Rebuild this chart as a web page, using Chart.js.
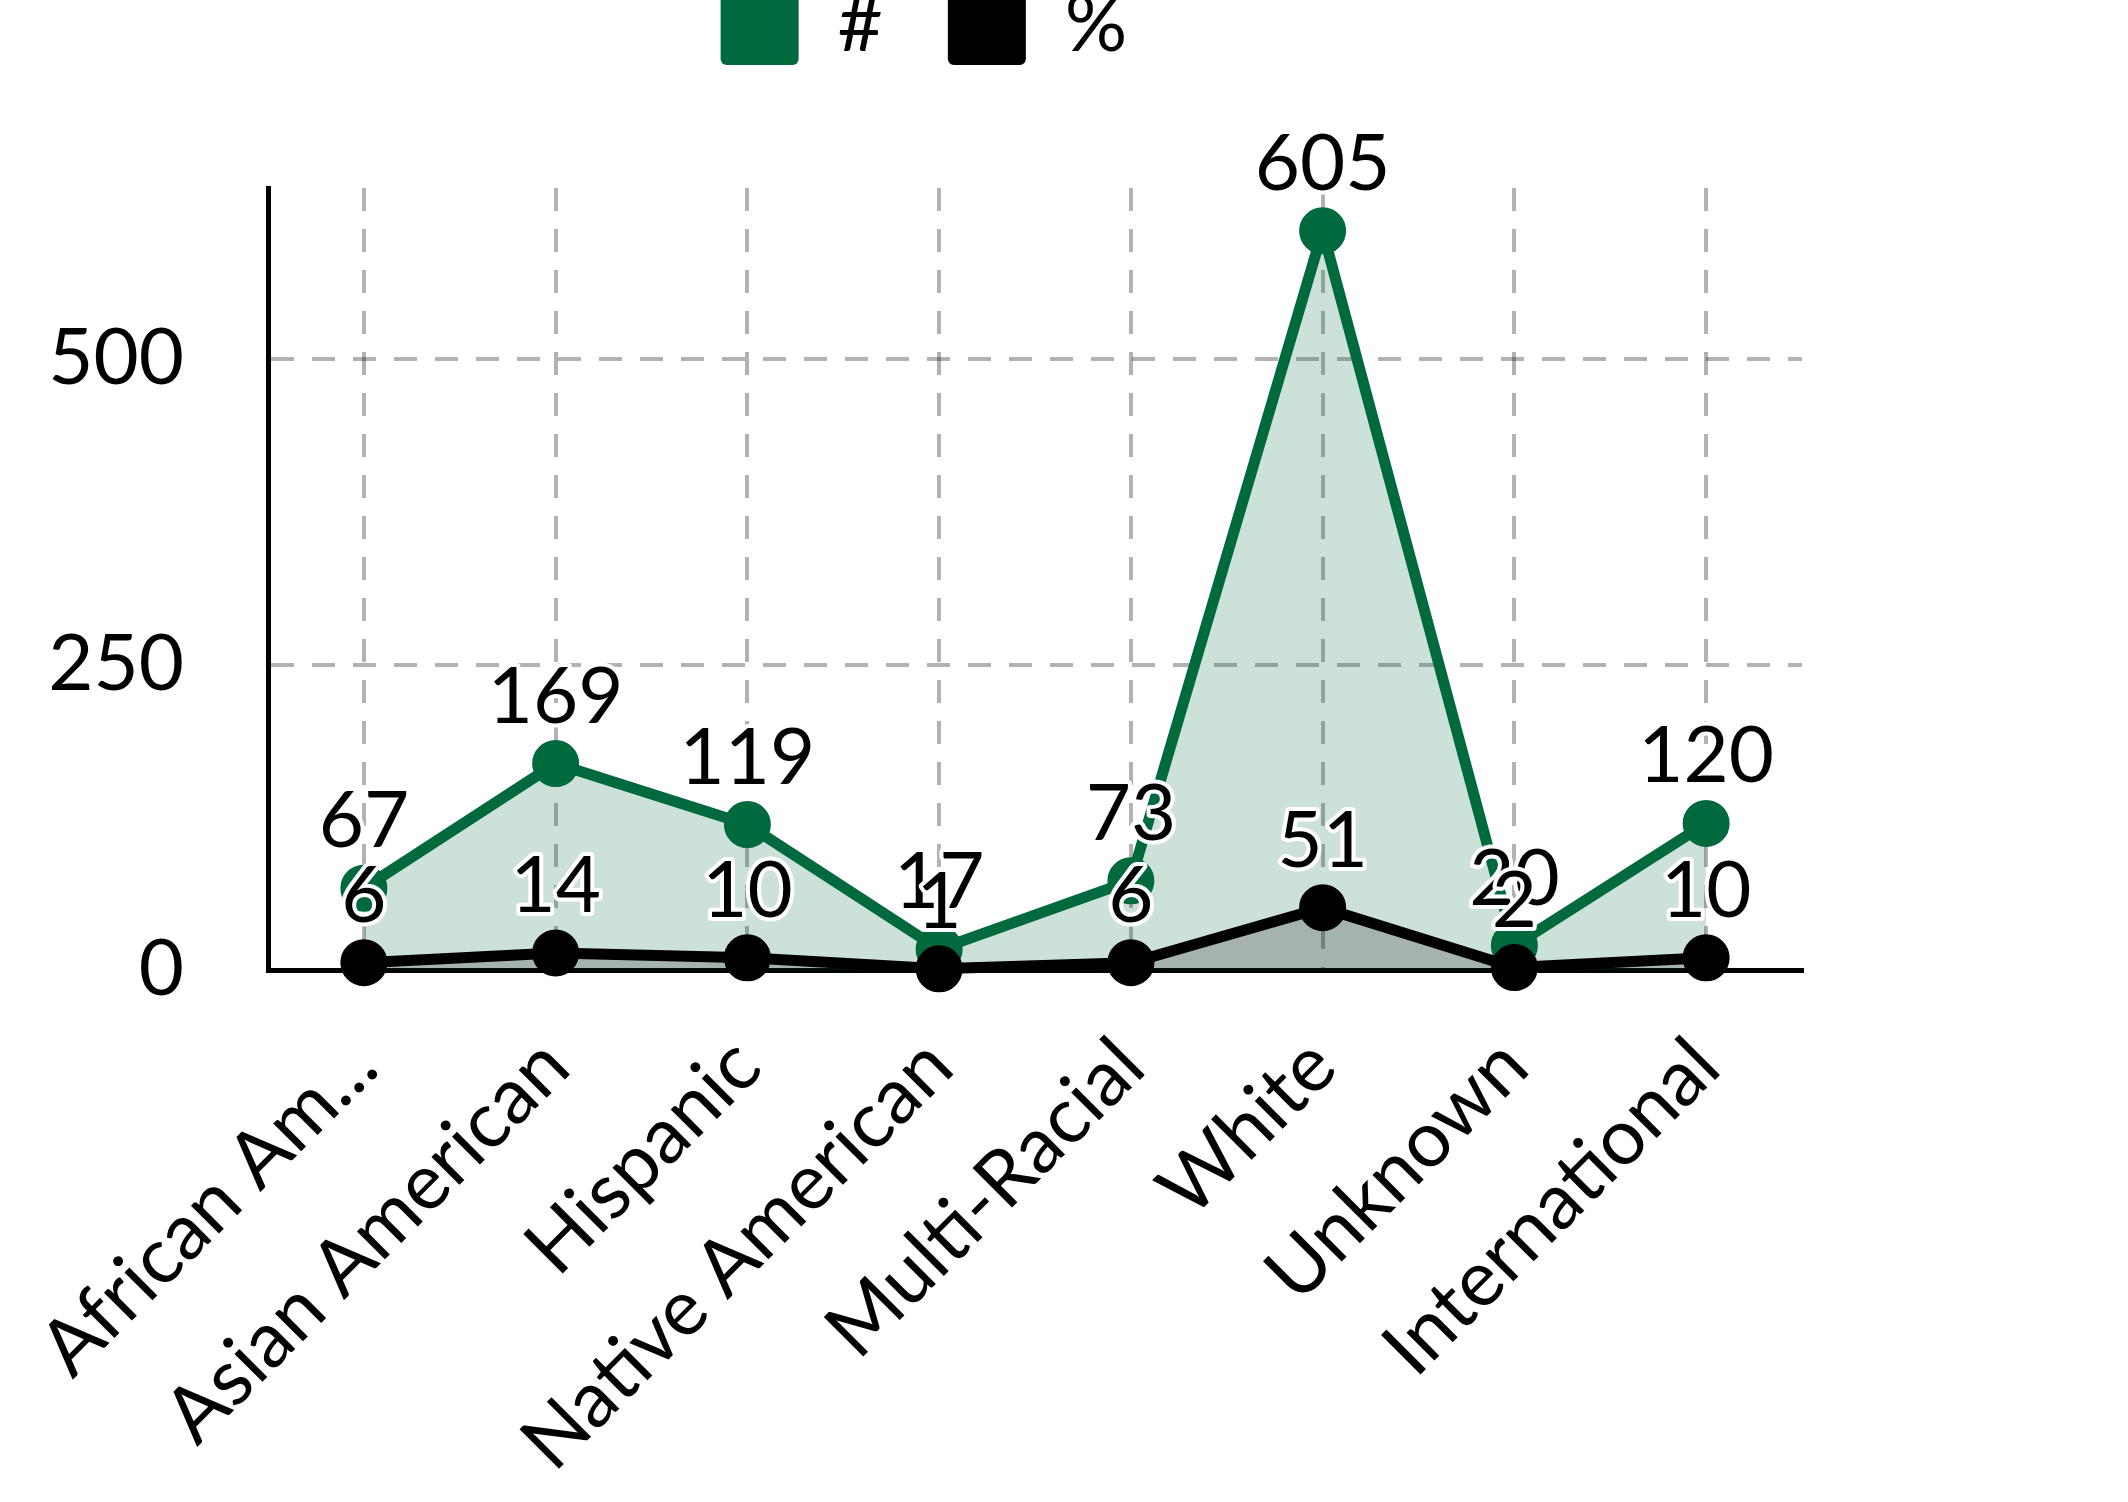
<!DOCTYPE html>
<html>
<head>
<meta charset="utf-8">
<script src="https://cdn.jsdelivr.net/npm/chart.js@4/dist/chart.umd.min.js"></script>
<style>
  html, body { margin: 0; padding: 0; background: #fff; overflow: hidden; }
  body { width: 2128px; height: 1502px; position: relative; }
  .chart-box { position: absolute; left: 0; top: -78px; width: 1827px; height: 1617px; }
</style>
</head>
<body>
<div class="chart-box"><canvas id="chart"></canvas></div>
<script>
const categories = ["African American", "Asian American", "Hispanic", "Native American", "Multi-Racial", "White", "Unknown", "International"];
const countValues = [67, 169, 119, 17, 73, 605, 20, 120];
const percentValues = [6, 14, 10, 1, 6, 51, 2, 10];
const yTicks = [0, 250, 500];

const GREEN = "#00693E";
const FONT_SIZE = 78;

Chart.defaults.font.family = "Lato";
Chart.defaults.font.size = FONT_SIZE;
Chart.defaults.color = "#000";

// value labels with a white halo, drawn after all lines
const valueLabels = {
  id: "valueLabels",
  afterDatasetsDraw(chart) {
    const ctx = chart.ctx;
    ctx.save();
    ctx.font = FONT_SIZE + "px Lato";
    ctx.textAlign = "center";
    ctx.textBaseline = "alphabetic";
    ctx.lineJoin = "round";
    ctx.lineWidth = 8;
    ctx.strokeStyle = "#fff";
    ctx.fillStyle = "#000";
    chart.data.datasets.forEach((ds, i) => {
      chart.getDatasetMeta(i).data.forEach((pt, j) => {
        const txt = String(ds.data[j]);
        ctx.strokeText(txt, pt.x, pt.y - 41);
        ctx.fillText(txt, pt.x, pt.y - 41);
      });
    });
    ctx.restore();
  },
};

// leave a gap under the legend and nudge it a little to the left
const legendGap = {
  id: "legendGap",
  beforeInit(chart) {
    const fit = chart.legend.fit;
    chart.legend.fit = function () {
      fit.call(this);
      this.height += 113;
    };
  },
  afterLayout(chart) {
    chart.legend.left -= 12;
    chart.legend.right -= 12;
  },
};

const gridOpts = {
  color: "rgba(0, 0, 0, 0.3)",
  lineWidth: 4,
  drawTicks: false,
};

const chart = new Chart(document.getElementById("chart"), {
  type: "line",
  data: {
    labels: categories,
    datasets: [
      {
        label: "#",
        data: countValues,
        borderColor: GREEN,
        backgroundColor: GREEN,
        fill: { target: "origin", above: "rgba(0, 105, 62, 0.2)" },
        borderWidth: 11,
        pointRadius: 22,
        pointBorderWidth: 3,
        tension: 0,
        clip: false,
        order: 1,
      },
      {
        label: "%",
        data: percentValues,
        borderColor: "#000",
        backgroundColor: "#000",
        fill: { target: "origin", above: "rgba(0, 0, 0, 0.2)" },
        borderWidth: 11,
        pointRadius: 22,
        pointBorderWidth: 3,
        tension: 0,
        clip: false,
        order: 0,
      },
    ],
  },
  options: {
    responsive: true,
    maintainAspectRatio: false,
    animation: false,
    devicePixelRatio: 1,
    layout: { padding: { left: 45, right: 0, top: 0, bottom: 0 } },
    plugins: {
      tooltip: { enabled: false },
      legend: {
        position: "top",
        labels: {
          boxWidth: 78,
          boxHeight: 78,
          padding: 65,
          useBorderRadius: true,
          borderRadius: 6,
          sort: (a, b) => a.datasetIndex - b.datasetIndex,
          generateLabels: (c) =>
            Chart.defaults.plugins.legend.labels
              .generateLabels(c)
              .map((l) => ({ ...l, lineWidth: 0 })),
        },
      },
    },
    scales: {
      x: {
        offset: true,
        grid: gridOpts,
        border: { display: true, color: "#000", width: 5, dash: [23, 18] },
        ticks: {
          autoSkip: false,
          maxRotation: 45,
          minRotation: 45,
          padding: 50,
          callback: function (value) {
            const label = this.getLabelForValue(value);
            return label.length > 15 ? label.slice(0, 10) + "..." : label;
          },
        },
        afterFit: (scale) => {
          scale.paddingLeft = 0;
          scale.paddingRight = 0;
        },
      },
      y: {
        min: 0,
        max: 640,
        grid: gridOpts,
        border: { display: true, color: "#000", width: 5, dash: [23, 18] },
        afterBuildTicks: (scale) => {
          scale.ticks = yTicks.map((v) => ({ value: v }));
        },
        afterFit: (scale) => {
          scale.width = 223;
        },
        ticks: { padding: 84 },
      },
    },
  },
  plugins: [valueLabels, legendGap],
});
</script>
</body>
</html>
